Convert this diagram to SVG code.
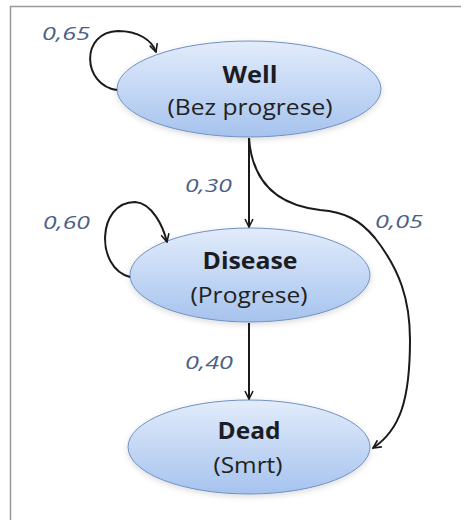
<svg xmlns="http://www.w3.org/2000/svg" width="461" height="520" viewBox="0 0 461 520">
<defs>
<linearGradient id="g" x1="0" y1="0" x2="0" y2="1">
<stop offset="0" stop-color="#e2ecfb"/>
<stop offset="1" stop-color="#a6c3ee"/>
</linearGradient>
<marker id="ah" viewBox="0 0 10 10" refX="9" refY="5" markerWidth="10" markerHeight="10" markerUnits="userSpaceOnUse" orient="auto">
<path d="M1,1 L9,5 L1,9" fill="none" stroke="#1a1a1a" stroke-width="1.6"/>
</marker>
<filter id="sh" x="-20%" y="-20%" width="140%" height="140%">
<feGaussianBlur in="SourceAlpha" stdDeviation="3"/>
<feOffset dx="0" dy="2"/>
<feComponentTransfer><feFuncA type="linear" slope="0.15"/></feComponentTransfer>
<feMerge><feMergeNode/><feMergeNode in="SourceGraphic"/></feMerge>
</filter>
</defs>
<style>
.node ellipse{fill:url(#g);stroke:#7090c0;stroke-width:1;filter:url(#sh)}
.t{font-family:"Open Sans","Liberation Sans",sans-serif;fill:#1c1c24;text-anchor:middle}
.b{font-weight:bold;font-size:23px}
.s{font-size:21px;fill:#222}
.lbl{font-family:"Open Sans","Liberation Sans",sans-serif;font-style:italic;font-size:18px;fill:#4a6185}
.c path{fill:none;stroke:#1a1a1a;stroke-width:2;marker-end:url(#ah)}
</style>
<rect width="461" height="520" fill="#ffffff"/>
<path d="M10.5,520 V6.5 H461" fill="none" stroke="#999" stroke-width="1.5"/>
<g id="well" class="node">
<ellipse cx="249" cy="89" rx="132" ry="48"/>
<text class="t b" x="250" y="83" textLength="55" lengthAdjust="spacingAndGlyphs">Well</text>
<text class="t s" x="250" y="115" textLength="165" lengthAdjust="spacingAndGlyphs">(Bez progrese)</text>
</g>
<g id="disease" class="node">
<ellipse cx="250" cy="275" rx="120" ry="47"/>
<text class="t b" x="250" y="269" textLength="95" lengthAdjust="spacingAndGlyphs">Disease</text>
<text class="t s" x="249" y="303" textLength="117" lengthAdjust="spacingAndGlyphs">(Progrese)</text>
</g>
<g id="dead" class="node">
<ellipse cx="249" cy="447" rx="121" ry="47"/>
<text class="t b" x="249" y="439" textLength="63" lengthAdjust="spacingAndGlyphs">Dead</text>
<text class="t s" x="248" y="473" textLength="69" lengthAdjust="spacingAndGlyphs">(Smrt)</text>
</g>
<g id="connectors" class="c">
<path d="M117,90 C82,85 80,32 118,31 C138,31 152,40 156,52"/>
<path d="M249,138 V227"/>
<path d="M249,138 C252,180 275,205 320,210 C345,212 360,220 375,238 C400,270 410,300 410,340 C410,400 400,430 373,448"/>
<path d="M130,277 C95,268 97,202 135,202 C152,203 163,226 167,242"/>
<path d="M249,323 V399"/>
</g>
<g id="labels">
<text class="lbl" x="42" y="40" textLength="48" lengthAdjust="spacingAndGlyphs">0,65</text>
<text class="lbl" x="185" y="192" textLength="47" lengthAdjust="spacingAndGlyphs">0,30</text>
<text class="lbl" x="43" y="229" textLength="47" lengthAdjust="spacingAndGlyphs">0,60</text>
<text class="lbl" x="375" y="228" textLength="48" lengthAdjust="spacingAndGlyphs">0,05</text>
<text class="lbl" x="185" y="369" textLength="48" lengthAdjust="spacingAndGlyphs">0,40</text>
</g>
</svg>
